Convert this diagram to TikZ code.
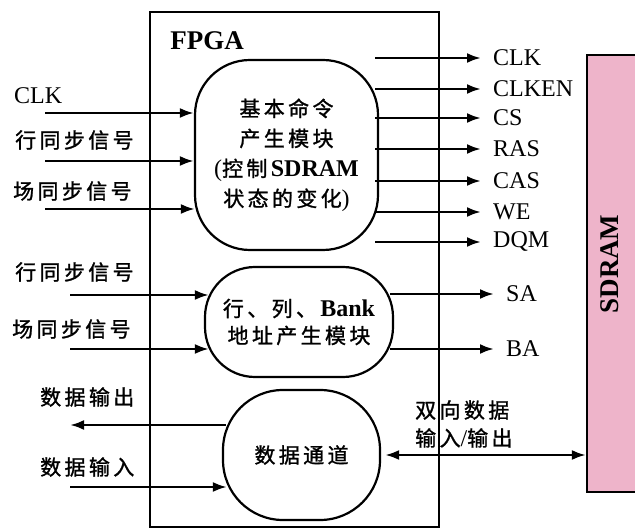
\documentclass[tikz,border=0pt]{standalone}
\usepackage{fontspec}
\setmainfont{Liberation Serif}
\newfontfamily\cjkfont[LetterSpace=16,FakeBold=1.2]{Noto Sans CJK SC}
\usetikzlibrary{arrows.meta}
\definecolor{sdrampink}{RGB}{238,180,202}
\newcommand\zh[1]{{\cjkfont\fontsize{21}{21}\selectfont #1}}

\begin{document}
\begin{tikzpicture}[x=1pt, y=-1pt,
  blk/.style={draw, line width=2.2pt, rounded corners=#1, inner sep=0pt, align=center,
    font=\fontsize{24}{30}\selectfont},
  sig/.style={line width=2.6pt, -{Latex[length=14pt,width=10pt]}},
  lbl/.style={anchor=west, inner sep=0pt},
  outlbl/.style={anchor=west, inner xsep=12pt, inner ysep=0pt, font=\fontsize{24}{26}\selectfont}]
  \useasboundingbox (0,0) rectangle (635,529);

  % FPGA and SDRAM
  \node[draw, line width=2.2pt, minimum width=289, minimum height=515, inner sep=0pt] (fpga) at (294.5,269.5) {};
  \node[font=\fontsize{27}{27}\selectfont\bfseries] (fpgatxt) at (207,41) {FPGA};
  \node[draw, line width=2.2pt, fill=sdrampink, minimum width=58, minimum height=437, inner sep=0pt] (sdram) at (616,273.5) {};
  \node[rotate=90, font=\fontsize{27}{27}\selectfont\bfseries] (sdramtxt) at (610,264) {SDRAM};

  % blocks
  \node[blk=55pt, minimum width=183, minimum height=190] (cmd) at (286.5,155)
    {\zh{基本命令}\\\zh{产生模块}\\(\zh{控制}\textbf{SDRAM}\\\zh{状态的变化})};
  \node[blk=50pt, minimum width=188, minimum height=110, font=\fontsize{24}{27}\selectfont] (addr) at (299,322)
    {\zh{行、列、}\textbf{Bank}\\\zh{地址产生模块}};
  \node[blk=60pt, minimum width=157, minimum height=130] (data) at (301.5,455) {\zh{数据通道}};

  % inputs
  \node[lbl, font=\fontsize{24}{24}\selectfont] (lclk) at (14,96) {CLK};
  \node[lbl] (lrow1) at (15,140) {\zh{行同步信号}};
  \node[lbl] (lfld1) at (13,191) {\zh{场同步信号}};
  \node[lbl] (lrow2) at (15,272) {\zh{行同步信号}};
  \node[lbl] (lfld2) at (12,329) {\zh{场同步信号}};
  \node[lbl] (ldout) at (40,397) {\zh{数据输出}};
  \node[lbl] (ldin) at (40,467) {\zh{数据输入}};
  \coordinate (inclk) at (45,113);
  \coordinate (inrow1) at (45,161);
  \coordinate (infld1) at (45,209);
  \coordinate (inrow2) at (70,295);
  \coordinate (infld2) at (70,349);
  \coordinate (dout) at (70,425);
  \coordinate (din) at (70,487);
  \draw[sig] (inclk) -- (inclk -| cmd.west);
  \draw[sig] (inrow1) -- (inrow1 -| cmd.west);
  \draw[sig] (infld1) -- ([xshift=1pt]infld1 -| cmd.west);
  \draw[sig] (inrow2) -- ([xshift=5pt]inrow2 -| addr.west);
  \draw[sig] (infld2) -- ([xshift=5pt]infld2 -| addr.west);
  \draw[sig] ([xshift=4pt]dout -| data.west) -- (dout);
  \draw[sig] (din) -- ([xshift=5pt]din -| data.west);

  % outputs
  \node[outlbl] (oclk) at (481,58) {CLK};
  \node[outlbl] (oclken) at (481,89) {CLKEN};
  \node[outlbl] (ocs) at (481,118) {CS};
  \node[outlbl] (oras) at (481,149) {RAS};
  \node[outlbl] (ocas) at (481,181) {CAS};
  \node[outlbl] (owe) at (481,212) {WE};
  \node[outlbl] (odqm) at (481,242) {DQM};
  \node[outlbl] (osa) at (494,294) {SA};
  \node[outlbl] (oba) at (494,349) {BA};
  \foreach \o in {oclk,oclken,ocs,oras,ocas,owe,odqm}
    \draw[sig] ([xshift=-4pt]cmd.east |- \o.west) -- (\o.west);
  \draw[sig] ([xshift=-4pt]addr.east |- osa.west) -- (osa.west);
  \draw[sig] ([xshift=-4pt]addr.east |- oba.west) -- (oba.west);

  % data bus
  \node[lbl, align=left, font=\fontsize{24}{28}\selectfont] (lbus) at (415,424) {\zh{双向数据}\\\zh{输入}/\zh{输出}};
  \draw[sig, {Latex[length=14pt,width=10pt]}-{Latex[length=14pt,width=10pt]}] ([xshift=4pt]data.east) -- (data.east -| sdram.west);
\end{tikzpicture}
\end{document}
